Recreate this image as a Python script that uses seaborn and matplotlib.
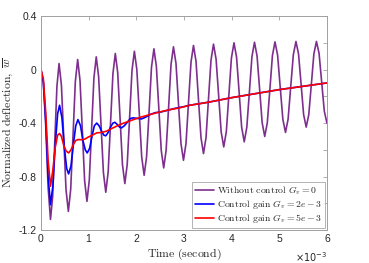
import matplotlib
matplotlib.use("Agg")
import matplotlib.pyplot as plt
import seaborn as sns

# time in units of 1e-3 s, normalized deflection
t_free = [0.0,
          0.05, 0.10, 0.15, 0.20, 0.245, 0.29, 0.335, 0.38,
          0.429, 0.478, 0.526, 0.575, 0.624, 0.673, 0.721, 0.77,
          0.819, 0.868, 0.916, 0.965, 1.014, 1.063, 1.111, 1.16,
          1.21, 1.26, 1.31, 1.36, 1.41, 1.46, 1.51, 1.56,
          1.61, 1.66, 1.71, 1.76, 1.81, 1.86, 1.91, 1.96,
          2.011, 2.063, 2.114, 2.165, 2.216, 2.268, 2.319, 2.37,
          2.421, 2.473, 2.524, 2.575, 2.626, 2.678, 2.729, 2.78,
          2.833, 2.885, 2.938, 2.99, 3.043, 3.095, 3.148, 3.20,
          3.253, 3.305, 3.358, 3.41, 3.463, 3.515, 3.568, 3.62,
          3.674, 3.728, 3.781, 3.835, 3.889, 3.943, 3.996, 4.05,
          4.104, 4.158, 4.211, 4.265, 4.319, 4.373, 4.426, 4.48,
          4.534, 4.588, 4.641, 4.695, 4.749, 4.803, 4.856, 4.91,
          4.965, 5.02, 5.075, 5.13, 5.185, 5.24, 5.295, 5.35,
          5.404, 5.458, 5.511, 5.565, 5.619, 5.673, 5.726, 5.78,
          5.835, 5.89, 5.945, 6.0]
w_free = [0.0,
          -0.10, -0.42, -0.88, -1.12, -0.95, -0.538, -0.125, 0.045,
          -0.116, -0.508, -0.899, -1.06, -0.894, -0.493, -0.091, 0.075,
          -0.08, -0.455, -0.83, -0.985, -0.827, -0.445, -0.063, 0.095,
          -0.053, -0.411, -0.769, -0.917, -0.766, -0.399, -0.031, 0.12,
          -0.022, -0.366, -0.71, -0.852, -0.708, -0.358, -0.007, 0.137,
          0.002, -0.327, -0.655, -0.79, -0.652, -0.318, 0.017, 0.155,
          0.025, -0.29, -0.605, -0.735, -0.603, -0.283, 0.038, 0.17,
          0.046, -0.254, -0.554, -0.678, -0.553, -0.249, 0.055, 0.18,
          0.062, -0.224, -0.51, -0.628, -0.509, -0.219, 0.071, 0.19,
          0.078, -0.194, -0.466, -0.578, -0.464, -0.189, 0.086, 0.20,
          0.092, -0.17, -0.432, -0.54, -0.431, -0.168, 0.095, 0.204,
          0.101, -0.148, -0.397, -0.50, -0.397, -0.147, 0.104, 0.207,
          0.108, -0.132, -0.371, -0.47, -0.371, -0.13, 0.111, 0.21,
          0.117, -0.11, -0.337, -0.43, -0.337, -0.11, 0.117, 0.21,
          0.121, -0.095, -0.311, -0.40]

t_g2 = [0.0, 0.05, 0.10, 0.15, 0.20, 0.25, 0.30, 0.35, 0.39, 0.44, 0.49, 0.54,
        0.58, 0.63, 0.68, 0.73, 0.776, 0.83, 0.88, 0.93, 0.97, 1.02, 1.07, 1.12,
        1.17, 1.22, 1.27, 1.32, 1.36, 1.41, 1.46, 1.51, 1.55, 1.60, 1.65, 1.69,
        1.75, 1.82, 1.88, 1.94, 2.02, 2.11, 2.20, 2.29, 2.40, 2.53, 2.65, 2.81,
        3.0, 3.12, 3.5, 4.0, 4.5, 5.0, 5.5, 6.0]
w_g2 = [0.0, -0.09, -0.38, -0.80, -1.01, -0.87, -0.56, -0.33, -0.267, -0.36, -0.58, -0.74,
        -0.78, -0.72, -0.56, -0.42, -0.374, -0.42, -0.53, -0.60, -0.623, -0.59, -0.50, -0.42,
        -0.40, -0.42, -0.46, -0.49, -0.495, -0.47, -0.43, -0.40, -0.394, -0.41, -0.43, -0.436,
        -0.42, -0.39, -0.365, -0.361, -0.365, -0.369, -0.355, -0.336, -0.322, -0.316, -0.305, -0.29,
        -0.277, -0.267, -0.245, -0.21, -0.18, -0.15, -0.125, -0.10]

t_g5 = [0.0, 0.05, 0.10, 0.15, 0.20, 0.25, 0.30, 0.35, 0.39, 0.43, 0.48, 0.53,
        0.58, 0.63, 0.68, 0.73, 0.78, 0.85, 0.92, 0.985, 1.08, 1.17, 1.27, 1.37,
        1.51, 1.70, 1.94, 2.10, 2.29, 2.50, 2.70, 2.90, 3.12, 3.5, 4.0, 4.5,
        5.0, 5.5, 6.0]
w_g5 = [0.0, -0.07, -0.32, -0.68, -0.872, -0.75, -0.58, -0.49, -0.478, -0.50, -0.57, -0.61,
        -0.623, -0.60, -0.56, -0.53, -0.523, -0.525, -0.52, -0.506, -0.49, -0.473, -0.47, -0.461,
        -0.436, -0.405, -0.374, -0.355, -0.336, -0.316, -0.30, -0.287, -0.267, -0.245, -0.21, -0.18,
        -0.15, -0.125, -0.10]

labels = [r"$\mathrm{Without\ control}\ G_v = 0$",
          r"$\mathrm{Control\ gain}\ G_v = 2e-3$",
          r"$\mathrm{Control\ gain}\ G_v = 5e-3$"]
colors = ["#7E2F8E", "#0000FF", "#FF0000"]

sns.set_style("white")
plt.rcParams["font.family"] = ["Liberation Sans", "DejaVu Sans"]
plt.rcParams["mathtext.fontset"] = "cm"

fig = plt.figure(figsize=(3.69, 2.63), dpi=100)
ax = fig.add_axes([0.111, 0.125, 0.775, 0.814])

for t, w, lab, c in zip([t_free, t_g2, t_g5], [w_free, w_g2, w_g5], labels, colors):
    sns.lineplot(x=t, y=w, ax=ax, color=c, label=lab, linewidth=1.2,
                 sort=False, estimator=None)

ax.set_xlim(0, 6)
ax.set_ylim(-1.2, 0.4)
ax.set_xticks([0, 1, 2, 3, 4, 5, 6])
ax.set_yticks([-1.2, -1.0, -0.8, -0.6, -0.4, -0.2, 0.0, 0.2, 0.4])
ax.set_yticklabels(["-1.2", "", "-0.8", "", "-0.4", "", "0", "", "0.4"])
ax.tick_params(direction="in", length=3, width=0.6, colors="#a0a0a0",
               labelcolor="#262626", labelsize=7.5, top=True, right=True, pad=3)
for s in ax.spines.values():
    s.set_color("#a0a0a0")
    s.set_linewidth(0.7)

ax.set_xlabel(r"$\mathrm{Time\ (second)}$", fontsize=8.5, color="#262626", labelpad=2)
ax.set_ylabel(r"$\mathrm{Normalized\ deflection,}\ \overline{w}$", fontsize=8.5,
              color="#262626", labelpad=3)
ax.text(1.0, -0.092, r"$\times10^{-3}$", transform=ax.transAxes, ha="right",
        va="top", fontsize=7, color="#262626", family="DejaVu Sans",
        math_fontfamily="dejavusans")

leg = ax.legend(loc="lower right", fontsize=7, frameon=True, fancybox=False,
                handlelength=2.0, handletextpad=0.3, borderpad=0.25,
                labelspacing=0.1, borderaxespad=0.25)
leg.get_frame().set_edgecolor("#a0a0a0")
leg.get_frame().set_linewidth(0.7)

fig.savefig("out.png", dpi=100)
